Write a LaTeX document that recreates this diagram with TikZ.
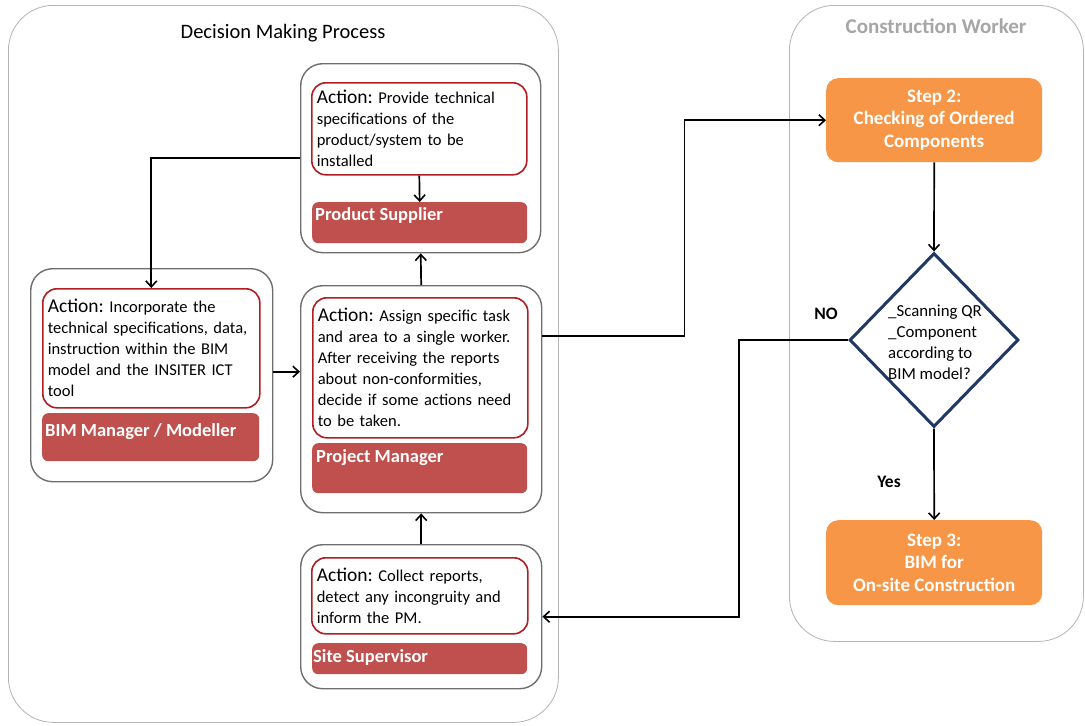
\documentclass[tikz,border=0pt]{standalone}
\usepackage{fontspec}
\setmainfont{Carlito}
\usetikzlibrary{shapes.geometric,arrows.meta,calc}
\definecolor{barred}{HTML}{C0504D}
\definecolor{actred}{HTML}{B01E23}
\definecolor{orng}{HTML}{F79646}
\definecolor{navy}{HTML}{1F3864}
\definecolor{boxgray}{HTML}{6E6E6E}
\definecolor{panelgray}{HTML}{B4B4B4}
\definecolor{titlegray}{HTML}{A6A6A6}
\newcommand{\actlabel}{{\fontsize{19.5}{21}\selectfont Action:}}
\frenchspacing
\begin{document}
\begin{tikzpicture}[x=1pt,y=-1pt,
  panel/.style={draw=panelgray, line width=0.8pt, rounded corners=45pt, fill=white, anchor=north west, inner sep=0pt},
  outerbox/.style={draw=boxgray, line width=1.4pt, rounded corners=22pt, fill=white, anchor=north west, inner sep=0pt},
  actbox/.style={draw=actred, line width=1.6pt, rounded corners=14pt, fill=white, anchor=north west, inner sep=5pt, align=left, font=\fontsize{16.5}{21}\selectfont\frenchspacing},
  rolebar/.style={fill=barred, rounded corners=6pt, anchor=north west, inner sep=0pt},
  roletext/.style={text=white, anchor=west, inner sep=0pt, font=\fontsize{18.5}{21}\selectfont\bfseries},
  stepbox/.style={fill=orng, rounded corners=12pt, anchor=north west, inner sep=0pt, text=white, align=center, font=\fontsize{19}{22.5}\selectfont\bfseries},
  decision/.style={diamond, draw=navy, line width=3pt, fill=white, inner sep=0pt},
  arr/.style={-{Straight Barb[length=6pt,width=11pt,line width=1.6pt]}, line width=1.7pt, black},
  lbl/.style={font=\fontsize{17.5}{19}\selectfont\bfseries, inner sep=0pt}
]
\useasboundingbox (0,0) rectangle (1085,726);
% panels
\node[panel, minimum width=550pt, minimum height=717pt] (leftpanel) at (8,5) {};
\node[font=\fontsize{20.5}{23}\selectfont, inner sep=0pt] (lefttitle) at (283,33) {Decision Making Process};
\node[panel, minimum width=294pt, minimum height=636pt] (rightpanel) at (789,5) {};
\node[font=\fontsize{21}{23}\selectfont\bfseries, text=titlegray, inner sep=0pt] (righttitle) at (936,26) {Construction Worker};

% Product Supplier
\node[outerbox, minimum width=240pt, minimum height=189pt] (ps) at (300,63) {};
\node[actbox, minimum width=215pt, minimum height=92pt, text width=205pt] (psact) at (311,82)
  {\actlabel{} Provide technical\\ specifications of the\\ product/system to be\\ installed};
\node[rolebar, minimum width=215pt, minimum height=41pt] (psbar) at (312,202) {};
\node[roletext] (pstext) at (315,215) {Product Supplier};

% BIM Manager
\node[outerbox, minimum width=242pt, minimum height=213pt] (bim) at (30,268) {};
\node[actbox, minimum width=217pt, minimum height=119pt, text width=207pt] (bimact) at (42,288)
  {\actlabel{} Incorporate the\\ technical specifications, data,\\ instruction within the BIM\\ model and the INSITER ICT\\ tool};
\node[rolebar, minimum width=217pt, minimum height=48pt] (bimbar) at (42,413) {};
\node[roletext] (bimtext) at (45,432) {BIM Manager / Modeller};

% Project Manager
\node[outerbox, minimum width=241pt, minimum height=227pt] (pm) at (300,285) {};
\node[actbox, minimum width=215pt, minimum height=140pt, text width=205pt] (pmact) at (312,297)
  {\actlabel{} Assign specific task\\ and area to a single worker.\\ After receiving the reports\\ about non-conformities,\\ decide if some actions need\\ to be taken.};
\node[rolebar, minimum width=215pt, minimum height=50pt] (pmbar) at (312,443) {};
\node[roletext] (pmtext) at (316,458) {Project Manager};

% Site Supervisor
\node[outerbox, minimum width=241pt, minimum height=144pt] (ss) at (300,544) {};
\node[actbox, minimum width=216pt, minimum height=76pt, text width=206pt] (ssact) at (311,557)
  {\actlabel{} Collect reports,\\ detect any incongruity and\\ inform the PM.};
\node[rolebar, minimum width=215pt, minimum height=31pt] (ssbar) at (312,643) {};
\node[roletext] (sstext) at (313,657) {Site Supervisor};

% Construction worker
\node[stepbox, minimum width=216pt, minimum height=84pt] (s2) at (826,78) {Step 2:\\ Checking of Ordered\\ Components};
\node[decision, minimum width=169pt, minimum height=174pt] (dec) at (934,340) {};
\node[align=left, anchor=west, inner sep=0pt, font=\fontsize{16.8}{21}\selectfont] (dectext) at (888,342)
  {\_Scanning QR\\ \_Component\\ according to\\ BIM model?};
\node[stepbox, minimum width=216pt, minimum height=85pt] (s3) at (826,520) {Step 3:\\ BIM for\\ On-site Construction};
\node[lbl] (nolbl) at (826,314) {NO};
\node[lbl] (yeslbl) at (889,482) {Yes};

% connectors
\draw[arr] (psact.south) -- (psbar.north);
\draw[arr] (ps.west) -| (bimact.north);
\draw[arr] ([yshift=3.5pt]bim.east) -- ([yshift=3.5pt]bim.east -| pm.west);
\draw[arr] (pm.north) -- (ps.south);
\draw[arr] (ss.north) -- (pm.south);
\draw[arr] ([yshift=63.5pt]pm.east) -- ++(142,0) |- (s2.west);
\draw[arr] (s2.south) -- (dec.north);
\draw[arr] (dec.south) -- (s3.north);
\draw[arr] (dec.west) -- ++(-109,0) |- (ss.east);
\end{tikzpicture}
\end{document}
